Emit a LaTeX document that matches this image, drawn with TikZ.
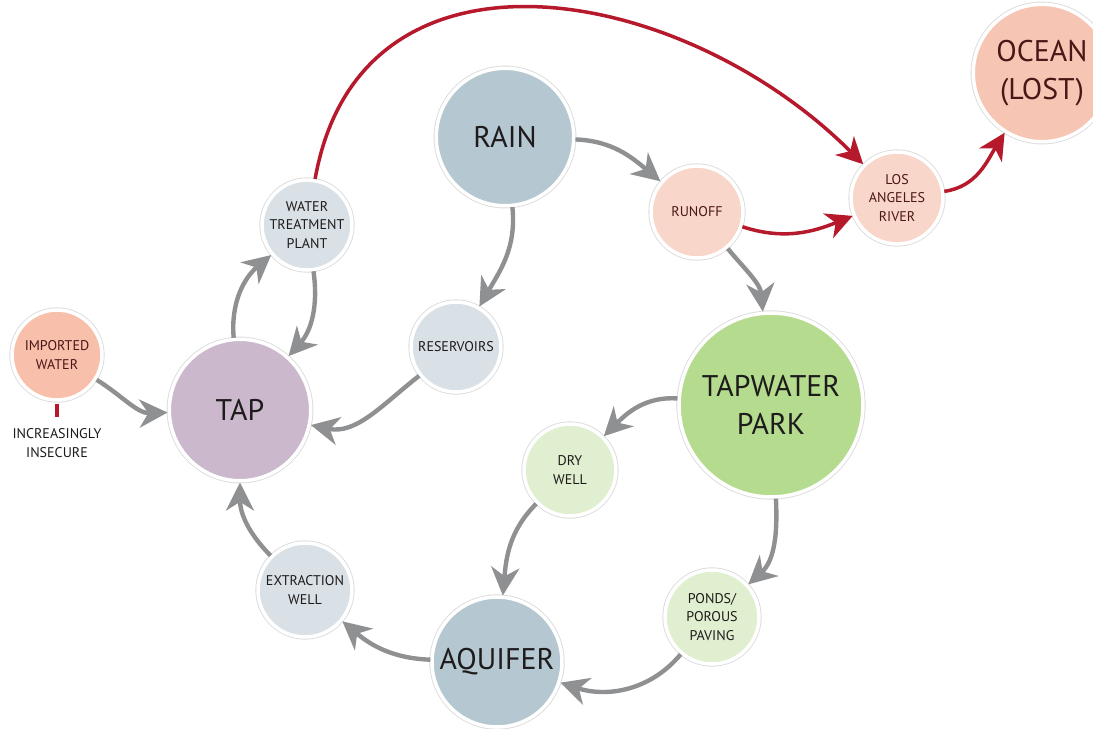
\documentclass[tikz,border=0pt]{standalone}
\usepackage{fontspec}
\setmainfont{PT Sans}
\usetikzlibrary{arrows.meta}

\definecolor{bluegray}{HTML}{B5C7D0}
\definecolor{palegray}{HTML}{D9E1E6}
\definecolor{mauve}{HTML}{CBB8CC}
\definecolor{salmon}{HTML}{F8C0AB}
\definecolor{peach}{HTML}{F7C5B4}
\definecolor{palepeach}{HTML}{F9D6CA}
\definecolor{grass}{HTML}{B5DC8E}
\definecolor{palegrass}{HTML}{E0EFCF}
\definecolor{arrowgray}{HTML}{8F9092}
\definecolor{riverred}{HTML}{B5192B}
\definecolor{darkink}{HTML}{1E1B1C}
\definecolor{redink}{HTML}{4B1616}

\newcommand{\bigtext}{\fontsize{17}{21.5}\selectfont}
\newcommand{\smalltext}{\fontsize{8}{10.5}\selectfont}

\tikzset{
  bubble/.style = {circle, inner sep=0pt, align=center, text=darkink,
                   draw=white, line width=2pt,
                   preaction={draw=black!14, line width=3pt}},
  flow/.style   = {draw=arrowgray, line width=2.5pt,
                   -{Stealth[length=16pt, width=16pt, inset=5pt]}},
  loss/.style   = {draw=riverred, line width=2pt,
                   -{Stealth[length=15pt, width=15pt, inset=4.5pt]}}
}

\begin{document}
\begin{tikzpicture}[x=0.02cm, y=0.02cm]
\useasboundingbox (0,0) rectangle (1093,-728);

% circles
\node[bubble, fill=bluegray, minimum size=2.75cm, font=\bigtext] (rain) at (505,-137) {RAIN};
\node[bubble, fill=peach, minimum size=2.75cm, font=\bigtext, text=redink] (ocean) at (1042,-73) {OCEAN\\(LOST)};
\node[bubble, fill=palepeach, minimum size=1.84cm, font=\smalltext, text=redink] (river) at (897,-198) {LOS\\ANGELES\\RIVER};
\node[bubble, fill=palepeach, minimum size=1.84cm, font=\smalltext, text=redink] (runoff) at (697,-212) {RUNOFF};
\node[bubble, fill=palegray, minimum size=1.8cm, font=\smalltext] (plant) at (307,-225) {WATER\\TREATMENT\\PLANT};
\node[bubble, fill=palegray, minimum size=1.8cm, font=\smalltext] (reservoirs) at (456,-347) {RESERVOIRS};
\node[bubble, fill=salmon, minimum size=1.8cm, font=\smalltext, text=redink] (imported) at (57,-355) {IMPORTED\\WATER};
\node[bubble, fill=mauve, minimum size=2.83cm, font=\bigtext] (tap) at (240,-410) {TAP};
\node[bubble, fill=grass, minimum size=3.68cm, font=\bigtext] (park) at (771,-405) {TAPWATER\\PARK};
\node[bubble, fill=palegrass, minimum size=1.84cm, font=\smalltext] (drywell) at (570,-470) {DRY\\WELL};
\node[bubble, fill=palegrass, minimum size=1.88cm, font=\smalltext] (ponds) at (712,-617) {PONDS/\\POROUS\\PAVING};
\node[bubble, fill=palegray, minimum size=1.88cm, font=\smalltext] (extraction) at (305,-590) {EXTRACTION\\WELL};
\node[bubble, fill=bluegray, minimum size=2.6cm, font=\bigtext] (aquifer) at (497,-662) {AQUIFER};

\node[font=\smalltext, align=center, text=darkink] (insecure) at (57,-443) {INCREASINGLY\\INSECURE};
\draw[riverred, line width=1.8pt, shorten <=1pt, shorten >=3pt] (imported.south) -- (insecure.north);

% water that stays in the loop
\draw[flow] (rain) to[out=-2, in=140] (runoff);
\draw[flow] (rain) to[out=-84, in=60] (reservoirs);
\draw[flow] (reservoirs) to[out=218, in=-12] (tap);
\draw[flow] (plant) to[out=-82, in=48] (tap);
\draw[flow] (tap) to[out=95, in=220] (plant);
\draw[flow] (imported) to[out=-32, in=182] (tap);
\draw[flow] (extraction) to[out=135, in=-90] (tap);
\draw[flow] (aquifer) to[out=178, in=-40] (extraction);
\draw[flow] (ponds) to[out=-130, in=-18] (aquifer);
\draw[flow] (drywell) to[out=-135, in=85] (aquifer);
\draw[flow] (park) to[out=176, in=45] (drywell);
\draw[flow] (park) to[out=-87, in=42] (ponds);
\draw[flow] (runoff) to[out=-50, in=95] (park);

% water that is lost
\draw[loss] (plant) to[out=80, in=135, looseness=1.2] (river);
\draw[loss] (runoff) to[out=-18, in=202] (river);
\draw[loss] (river) to[out=8, in=238] (ocean);
\end{tikzpicture}
\end{document}
